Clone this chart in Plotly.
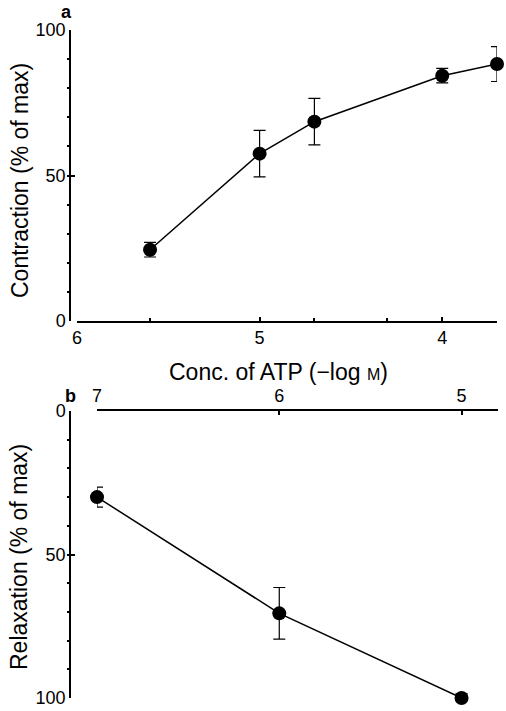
import plotly.graph_objects as go

# Panel a: contraction
conc_a = [5.6, 5.0, 4.7, 4.0, 3.7]
contraction = [24.5, 57.5, 68.5, 84.3, 88.3]
contraction_err = [2.5, 8.0, 8.0, 2.5, 6.0]

# Panel b: relaxation
conc_b = [7.0, 6.0, 5.0]
relaxation = [30.0, 70.5, 100.0]
relaxation_err = [3.5, 9.0, 1.5]

W, H = 506, 711
FONT = "Liberation Sans, Arial, Helvetica, sans-serif"


def px(x):
    return x / W


def py(y):
    return 1 - y / H


fig = go.Figure()

fig.add_trace(go.Scatter(
    x=conc_a, y=contraction, mode="lines+markers",
    line=dict(color="black", width=1.5),
    marker=dict(color="black", size=14),
    error_y=dict(type="data", array=contraction_err, color="black", thickness=1.2, width=6),
    cliponaxis=False, xaxis="x", yaxis="y", showlegend=False,
))
fig.add_trace(go.Scatter(
    x=conc_b, y=relaxation, mode="lines+markers",
    line=dict(color="black", width=1.5),
    marker=dict(color="black", size=14),
    error_y=dict(type="data", array=relaxation_err, color="black", thickness=1.2, width=6),
    cliponaxis=False, xaxis="x2", yaxis="y2", showlegend=False,
))

ax_common = dict(showline=True, linecolor="black", linewidth=1.5, showgrid=False,
                 zeroline=False, tickfont=dict(family=FONT, size=18, color="black"),
                 ticks="inside", ticklen=4, tickcolor="black", tickwidth=1.5,
                 automargin=False)

fig.update_layout(
    width=W, height=H,
    margin=dict(l=0, r=0, t=0, b=0, autoexpand=False),
    paper_bgcolor="white", plot_bgcolor="white",
    font=dict(family=FONT, color="black"),
    xaxis=dict(**ax_common, domain=[px(77), px(497)], range=[6, 3.7], anchor="y",
               tickvals=[6, 5, 4], ticktext=["6", "5", "4"],
               minor=dict(tickvals=[5.6, 4.7, 4.3, 3.7], ticks="inside", ticklen=3,
                          tickcolor="black", tickwidth=1.5)),
    yaxis=dict(**ax_common, domain=[py(321), py(30)], range=[0, 100],
               anchor="free", position=px(70),
               tickvals=[0, 50, 100], ticktext=["0", "50", "100"],
               minor=dict(dtick=10, tick0=0, ticks="outside", ticklen=2,
                          tickcolor="black", tickwidth=1.5)),
    xaxis2=dict(**ax_common, domain=[px(97), px(498)], range=[7, 4.8], anchor="y2",
                side="top", tickvals=[7, 6, 5], ticktext=["7", "6", "5"]),
    yaxis2=dict(**ax_common, domain=[py(698), py(411)], range=[100, 0],
                anchor="free", position=px(70),
                tickvals=[0, 50, 100], ticktext=["0", "50", "100"],
                minor=dict(dtick=10, tick0=0, ticks="outside", ticklen=2,
                           tickcolor="black", tickwidth=1.5)),
)

annos = [
    dict(text="Contraction (% of max)", x=px(20), y=py(181), textangle=-90, size=23),
    dict(text="Relaxation (% of max)", x=px(19), y=py(557), textangle=-90, size=23),
    dict(text="Conc. of ATP (−log <span style='font-size:16px'>M</span>)",
         x=px(278), y=py(372), size=23),
    dict(text="<b>a</b>", x=px(66), y=py(12), size=18),
    dict(text="<b>b</b>", x=px(70), y=py(396), size=18),
]
for a in annos:
    size = a.pop("size")
    fig.add_annotation(xref="paper", yref="paper", showarrow=False,
                       xanchor="center", yanchor="middle",
                       font=dict(family=FONT, color="black", size=size), **a)

fig.write_html(
    "out.html",
    config={"displayModeBar": False},
    post_script="document.body.style.margin='0px';document.body.style.overflow='hidden';",
)
